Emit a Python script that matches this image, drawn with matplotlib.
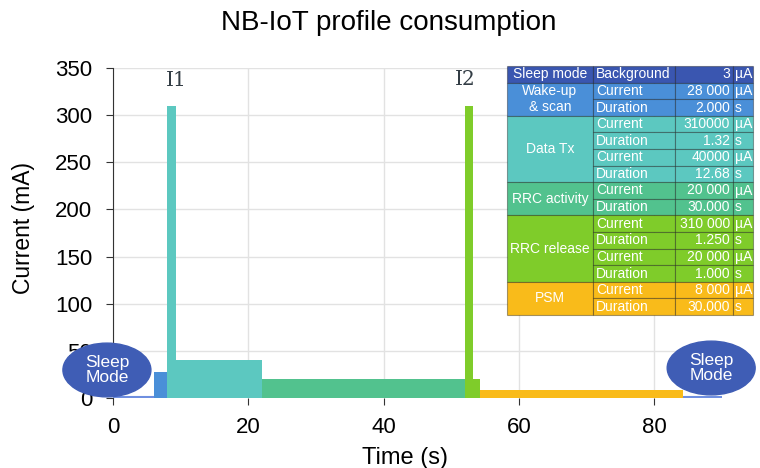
import matplotlib.pyplot as plt
from matplotlib.patches import Ellipse, Rectangle
import numpy as np

plt.rcParams['font.family'] = ['Liberation Sans', 'DejaVu Sans']

# profile segments: current (mA), duration (s)
seg_names = ['Sleep', 'Wake-up & scan', 'Data Tx peak', 'Data Tx', 'RRC activity',
             'RRC release peak', 'RRC release', 'PSM', 'Sleep']
seg_current = [0.003, 28, 310, 40, 20, 310, 20, 8, 0.003]
seg_duration = [6, 2.0, 1.32, 12.68, 30.0, 1.25, 1.0, 30.0, 5.75]
seg_colors = ['#6f8fe0', '#4a8fd8', '#5cc8c0', '#5cc8c0', '#52c28e',
              '#7fcc2a', '#7fcc2a', '#f9bb1a', '#6f8fe0']

# table content
tbl_groups = [('Sleep mode', 1, '#3a56b0'), ('Wake-up\n& scan', 2, '#4a8fd8'),
              ('Data Tx', 4, '#5cc8c0'), ('RRC activity', 2, '#52c28e'),
              ('RRC release', 4, '#7fcc2a'), ('PSM', 2, '#f9bb1a')]
tbl_params = ['Background', 'Current', 'Duration', 'Current', 'Duration', 'Current',
              'Duration', 'Current', 'Duration', 'Current', 'Duration', 'Current',
              'Duration', 'Current', 'Duration']
tbl_values = ['3', '28 000', '2.000', '310000', '1.32', '40000', '12.68', '20 000',
              '30.000', '310 000', '1.250', '20 000', '1.000', '8 000', '30.000']
tbl_units = ['µA', 'µA', 's', 'µA', 's', 'µA', 's', 'µA', 's', 'µA', 's', 'µA', 's',
             'µA', 's']

fig = plt.figure(figsize=(7.6, 4.68), dpi=100)
ax = fig.add_axes([113 / 760, 70 / 468, 609 / 760, 330 / 468])

starts = np.concatenate([[0], np.cumsum(seg_duration)[:-1]])
for s, d, c, col, name in zip(starts, seg_duration, seg_current, seg_colors, seg_names):
    if name == 'Sleep':
        ax.hlines(0.8, s, s + d, color=col, lw=1.5, zorder=3)
    else:
        ax.bar(s, c, width=d, align='edge', color=col, zorder=3)

ax.set_xlim(0, 90)
ax.set_ylim(0, 350)
ax.set_xticks([0, 20, 40, 60, 80])
ax.set_yticks(range(0, 351, 50))
ax.grid(True, color='#e2e2e2', lw=1)
ax.set_axisbelow(True)
for sp in ['top', 'right', 'bottom']:
    ax.spines[sp].set_visible(False)
ax.spines['left'].set_color('#333333')
ax.tick_params(labelsize=16, length=5, color='#333333')
ax.tick_params(axis='y', pad=10)
ax.tick_params(axis='x', pad=9)
ax.set_xlabel('Time (s)', fontsize=17)
ax.set_ylabel('Current (mA)', fontsize=16.5)
ax.xaxis.set_label_coords(0.48, -0.148)
ax.yaxis.set_label_coords(-0.128, 0.515)
fig.suptitle('NB-IoT profile consumption', fontsize=20, x=0.512, y=0.95, va='center')

ax.text(9.3, 337, 'I1', family='DejaVu Serif', fontsize=14.5, color='#333d45',
        ha='center', va='center')
ax.text(52.1, 338, 'I2', family='DejaVu Serif', fontsize=14.5, color='#333d45',
        ha='center', va='center')

for cx, cy in [(-0.9, 29.7), (88.4, 31.8)]:
    ax.add_patch(Ellipse((cx, cy), 13.0, 57, color='#3f5db5', zorder=6, clip_on=False))
    ax.text(cx, cy, 'Sleep\nMode', color='white', fontsize=12.5, ha='center',
            va='center', zorder=7, clip_on=False, linespacing=1.05)

# table overlay in pixel coords
tax = fig.add_axes([0, 0, 1, 1])
tax.set_xlim(0, 760)
tax.set_ylim(468, 0)
tax.axis('off')
cols = [507, 593, 675, 733, 753]
top, rh = 66, 16.6
edge = (0, 0, 0, 0.35)
row = 0
for label, span, col in tbl_groups:
    y0 = top + row * rh
    tax.add_patch(Rectangle((cols[0], y0), cols[1] - cols[0], span * rh, fc=col, ec=edge, lw=0.8))
    tax.text((cols[0] + cols[1]) / 2, y0 + span * rh / 2, label, color='white', fontsize=10,
             ha='center', va='center', linespacing=1.15)
    for r in range(row, row + span):
        yr = top + r * rh
        for i in range(1, 4):
            tax.add_patch(Rectangle((cols[i], yr), cols[i + 1] - cols[i], rh, fc=col, ec=edge, lw=0.8))
        tax.text(cols[1] + 3, yr + rh / 2, tbl_params[r], color='white', fontsize=10, va='center')
        tax.text(cols[3] - 3, yr + rh / 2, tbl_values[r], color='white', fontsize=10,
                 va='center', ha='right')
        tax.text(cols[3] + 2, yr + rh / 2, tbl_units[r], color='white', fontsize=10, va='center')
    row += span

fig.savefig('out.png', dpi=100)
